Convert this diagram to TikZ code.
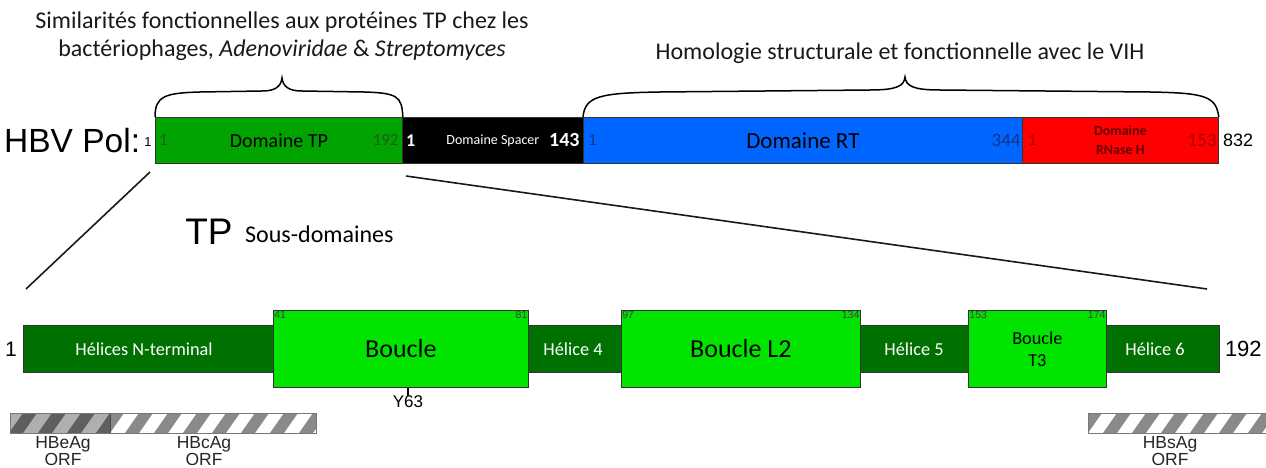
\documentclass[tikz,border=0pt]{standalone}
\usepackage{fontspec}
\setmainfont{Carlito}
\newfontfamily\arialf{Liberation Sans}
\definecolor{tpgreen}{RGB}{0,163,0}
\definecolor{rtblue}{RGB}{0,102,255}
\definecolor{rnred}{RGB}{255,0,0}
\definecolor{dkgreen}{RGB}{0,112,0}
\definecolor{ltgreen}{RGB}{0,228,0}
\definecolor{numgreen}{RGB}{30,90,30}
\definecolor{numblue}{RGB}{20,50,140}
\definecolor{numred}{RGB}{170,0,0}
\definecolor{rnlabel}{RGB}{100,0,0}
\definecolor{stripedk}{RGB}{95,95,95}
\definecolor{stripelt}{RGB}{175,175,175}
\definecolor{stripegr}{RGB}{138,138,138}
\definecolor{barborder}{RGB}{120,120,120}
\usetikzlibrary{positioning}
\begin{document}
\begin{tikzpicture}[x=1pt,y=-1pt,
  dombox/.style={draw=black!80, line width=0.8pt, anchor=north west, inner sep=0pt},
  subbox/.style={draw=black!80, line width=0.8pt, anchor=north west, inner sep=0pt},
  helixtxt/.style={text=white, font=\fontsize{18.3}{20}\selectfont},
  smallnum/.style={font=\arialf\fontsize{10.5}{12}\selectfont, text=black!75, inner sep=1.2pt},
  orftxt/.style={font=\arialf\fontsize{17.5}{17.5}\selectfont, align=center, text=black!85},
  brace/.style={line width=1.5pt, black},
  connector/.style={line width=1.6pt, black!90}
]
\useasboundingbox (0,0) rectangle (1266,468);

% ---------- top titles ----------
\node[align=center, font=\fontsize{24}{28}\selectfont, text=black!90] (simtxt) at (282,36)
  {Similarités fonctionnelles aux protéines TP chez les\\bactériophages, \textit{Adenoviridae} \& \textit{Streptomyces}};
\node[font=\fontsize{24}{28}\selectfont, text=black!90] (homtxt) at (900,53)
  {Homologie structurale et fonctionnelle avec le VIH};

% ---------- HBV Pol bar ----------
\node[anchor=west, font=\arialf\fontsize{33.5}{36}\selectfont, inner sep=0pt] (hbv) at (4,141) {HBV Pol:};
\node[font=\arialf\fontsize{13}{15}\selectfont, inner sep=0pt] (one0) at (148,142) {1};

\node[dombox, fill=tpgreen, minimum width=247, minimum height=46,
      font=\fontsize{20}{24}\selectfont] (tp) at (155,117) {Domaine TP};
\node[dombox, fill=black, minimum width=181, minimum height=46, text=white,
      font=\fontsize{14}{16}\selectfont] (sp) at (402,117) {Domaine Spacer\hspace{16pt}};
\node[dombox, fill=rtblue, minimum width=439, minimum height=46,
      font=\fontsize{23}{26}\selectfont] (rt) at (583,117) {Domaine RT};
\node[dombox, fill=rnred, minimum width=196, minimum height=46, text=rnlabel, align=center,
      font=\bfseries\fontsize{14}{19}\selectfont] (rn) at (1022,117) {Domaine\\RNase H\hspace{14pt}};

\node[font=\fontsize{17}{19}\selectfont, text=numgreen, anchor=west, inner sep=0pt] at ([xshift=4pt]tp.west) {1};
\node[font=\fontsize{17}{19}\selectfont, text=numgreen, anchor=east, inner sep=0pt] at ([xshift=-4pt]tp.east) {192};
\node[font=\bfseries\fontsize{18}{20}\selectfont, text=white, anchor=west, inner sep=0pt] at ([xshift=4pt]sp.west) {1};
\node[font=\bfseries\fontsize{20}{22}\selectfont, text=white, anchor=east, inner sep=0pt] at ([xshift=-4pt]sp.east) {143};
\node[font=\fontsize{17}{19}\selectfont, text=numblue, anchor=west, inner sep=0pt] at ([xshift=5pt]rt.west) {1};
\node[font=\fontsize{19}{21}\selectfont, text=numblue, anchor=east, inner sep=0pt] at ([xshift=-2pt]rt.east) {344};
\node[font=\fontsize{17}{19}\selectfont, text=numred, anchor=west, inner sep=0pt] at ([xshift=6pt]rn.west) {1};
\node[font=\fontsize{19}{21}\selectfont, text=numred, anchor=east, inner sep=0pt] at ([xshift=-2pt]rn.east) {153};
\node[font=\arialf\fontsize{18}{20}\selectfont, anchor=west, inner sep=0pt] (n832) at ([xshift=4pt]rn.east) {832};

% ---------- braces ----------
\draw[brace] (tp.north west) .. controls (155,96) and (165,93) .. (200,92)
  -- (262,91) .. controls (276,91) and (281,86) .. (282,78)
  .. controls (283,86) and (288,91) .. (302,91) -- (364,92)
  .. controls (397,93) and (402,96) .. (tp.north east);
\draw[brace] (rt.north west) .. controls (585,96) and (600,93) .. (660,92)
  -- (870,90) .. controls (897,90) and (904,86) .. (905,77)
  .. controls (906,86) and (913,90) .. (940,90) -- (1150,92)
  .. controls (1205,93) and (1216,96) .. (rn.north east);

% ---------- TP sub-domains ----------
\node[font=\arialf\fontsize{37}{40}\selectfont, inner sep=0pt] (tplbl) at (209,232) {TP};
\node[anchor=west, font=\fontsize{24}{27}\selectfont, inner sep=0pt] (souslbl) at (245,234) {Sous-domaines};

\node[subbox, fill=dkgreen, minimum width=1196, minimum height=47] (base) at (23,325) {};
\node[subbox, fill=ltgreen, minimum width=255, minimum height=77,
      font=\fontsize{26}{28}\selectfont] (boucle) at (273,310) {Boucle};
\node[subbox, fill=ltgreen, minimum width=239, minimum height=77,
      font=\fontsize{26}{28}\selectfont] (l2) at (621,310) {Boucle L2};
\node[subbox, fill=ltgreen, minimum width=138, minimum height=77, align=center,
      font=\fontsize{18.3}{22}\selectfont] (t3) at (968,310) {Boucle\\T3};

\node[helixtxt] (hn) at (144,349) {Hélices N-terminal};
\node[helixtxt] (h4) at (573,349) {Hélice 4};
\node[helixtxt] (h5) at (914,349) {Hélice 5};
\node[helixtxt] (h6) at (1155,349) {Hélice 6};

\node[smallnum, anchor=north west] at (boucle.north west) {41};
\node[smallnum, anchor=north east] at (boucle.north east) {81};
\node[smallnum, anchor=north west] at (l2.north west) {97};
\node[smallnum, anchor=north east] at (l2.north east) {134};
\node[smallnum, anchor=north west] at (t3.north west) {153};
\node[smallnum, anchor=north east] at (t3.north east) {174};

\node[font=\arialf\fontsize{21}{23}\selectfont, anchor=east, inner sep=0pt] (b1) at ([xshift=-6pt]base.west) {1};
\node[font=\arialf\fontsize{22}{24}\selectfont, anchor=west, inner sep=0pt] (b192) at ([xshift=5pt]base.east) {192};

\coordinate (y63) at (408,396);
\draw[line width=2pt] (boucle.south -| y63) -- (y63);
\node[font=\arialf\fontsize{17}{19}\selectfont, anchor=north, inner sep=0pt] (y63lbl) at ([yshift=1pt]y63) {Y63};

% ---------- connectors ----------
\coordinate (c1a) at (150,172);
\coordinate (c1b) at (26,289);
\coordinate (c2a) at (406,176);
\coordinate (c2b) at (1207,289);
\draw[connector] (c1a) -- (c1b);
\draw[connector] (c2a) -- (c2b);

% ---------- ORF striped bars ----------
\begin{scope}
  \clip (10,413) rectangle (110,433);
  \fill[stripelt] (10,413) rectangle (110,433);
  \foreach \a in {-20,9,...,120} {
    \fill[stripedk] (\a,433) -- (\a+14,433) -- (\a+28,413) -- (\a+14,413) -- cycle;
  }
\end{scope}
\begin{scope}
  \clip (110,413) rectangle (316,433);
  \fill[white] (110,413) rectangle (316,433);
  \foreach \a in {96,125,...,330} {
    \fill[stripegr] (\a,433) -- (\a+14,433) -- (\a+28,413) -- (\a+14,413) -- cycle;
  }
\end{scope}
\draw[barborder, line width=0.9pt] (10,413) rectangle (316,433);
\draw[black!70, line width=0.9pt] (110,413) -- (110,433);
\begin{scope}
  \clip (1088,413) rectangle (1266,433);
  \fill[white] (1088,413) rectangle (1266,433);
  \foreach \a in {1074,1103,...,1280} {
    \fill[stripegr] (\a,433) -- (\a+14,433) -- (\a+28,413) -- (\a+14,413) -- cycle;
  }
\end{scope}
\draw[barborder, line width=0.9pt] (1266,413) -- (1088,413) -- (1088,433) -- (1266,433);

\node[orftxt] (hbe) at (63,451) {HBeAg\\ORF};
\node[orftxt] (hbc) at (204,451) {HBcAg\\ORF};
\node[orftxt] (hbs) at (1170,451) {HBsAg\\ORF};
\end{tikzpicture}
\end{document}
